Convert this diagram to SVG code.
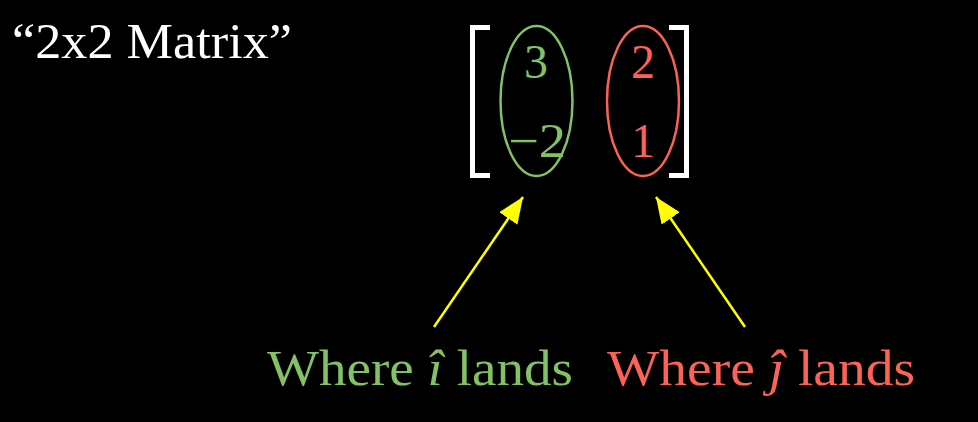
<svg xmlns="http://www.w3.org/2000/svg" width="978" height="422" viewBox="0 0 978 422">
<defs>
<style>
.t{font-family:"Liberation Serif","DejaVu Serif",serif;}
.g{fill:#83C167;}
.r{fill:#FC6255;}
.w{fill:#FFFFFF;}
.br{fill:none;stroke:#FFFFFF;stroke-width:5;}
.arr{stroke:#FFFF00;stroke-width:2.5;fill:none;}
</style>
<marker id="ah" markerUnits="userSpaceOnUse" markerWidth="30" markerHeight="30" refX="26" refY="11" orient="auto">
<path d="M0,0 L26,11 L0,22 Z" fill="#FFFF00"/>
</marker>
</defs>
<rect width="978" height="422" fill="#000000"/>
<g id="title">
<text class="t w" x="12" y="58" font-size="50" textLength="280" lengthAdjust="spacingAndGlyphs">“2x2 Matrix”</text>
</g>
<g id="matrix">
<path class="br" d="M490,27.5 H472.5 V175.5 H490"/>
<path class="br" d="M669,27.5 H686.5 V175.5 H669"/>
</g>
<g id="col-i">
<ellipse cx="536.5" cy="101" rx="36" ry="75" fill="none" stroke="#83C167" stroke-width="2.5"/>
<text class="t g" x="536" y="78" font-size="48" text-anchor="middle">3</text>
<text class="t g" x="537" y="157" font-size="48" text-anchor="middle" textLength="58" lengthAdjust="spacingAndGlyphs">−2</text>
</g>
<g id="col-j">
<ellipse cx="643" cy="101" rx="36" ry="75" fill="none" stroke="#FC6255" stroke-width="2.5"/>
<text class="t r" x="643" y="78" font-size="48" text-anchor="middle">2</text>
<text class="t r" x="643" y="157" font-size="48" text-anchor="middle">1</text>
</g>
<g id="connectors">
<line class="arr" x1="434" y1="327" x2="523" y2="197" marker-end="url(#ah)"/>
<line class="arr" x1="745" y1="327" x2="656" y2="197" marker-end="url(#ah)"/>
</g>
<g id="label-i">
<text class="t g" x="267" y="385" font-size="51" textLength="306" lengthAdjust="spacingAndGlyphs">Where <tspan font-style="italic">î</tspan> lands</text>
</g>
<g id="label-j">
<text class="t r" x="607" y="385" font-size="51" textLength="308" lengthAdjust="spacingAndGlyphs">Where <tspan font-style="italic">ĵ</tspan> lands</text>
</g>
</svg>
